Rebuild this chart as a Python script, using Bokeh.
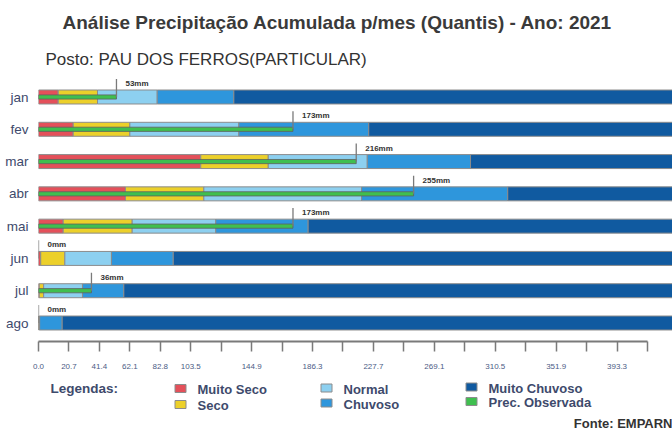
from bokeh.plotting import figure
from bokeh.layouts import column
from bokeh.models import Range1d, FixedTicker
from bokeh.core.properties import value
from bokeh.embed import file_html
from bokeh.resources import INLINE

# ---------------- data ----------------
meses = ["jan", "fev", "mar", "abr", "mai", "jun", "jul", "ago"]
lim_muito_seco = [13.4, 23.6, 110.3, 59.1, 16.8, 1.5, 0.5, 0.2]
lim_seco = [40.1, 62.1, 156.2, 112.4, 63.7, 17.9, 3.5, 0.4]
lim_normal = [80.7, 136.2, 223.5, 219.6, 120.5, 49.6, 29.9, 0.8]
lim_chuvoso = [132.8, 224.5, 293.7, 319.0, 183.3, 91.6, 58.0, 16.1]
prec_observada = [53, 173, 216, 255, 173, 0, 36, 0]

tick_values = [0.0, 20.7, 41.4, 62.1, 82.8, 103.5, 124.2, 144.9, 165.6, 186.3, 207.0,
               227.7, 248.4, 269.1, 289.8, 310.5, 331.2, 351.9, 372.6, 393.3, 414.0]
tick_labels = ["0.0", "20.7", "41.4", "62.1", "82.8", "103.5", "", "144.9", "", "186.3", "",
               "227.7", "", "269.1", "", "310.5", "", "351.9", "", "393.3", ""]

legend_labels = ["Muito Seco", "Seco", "Normal", "Chuvoso", "Muito Chuvoso", "Prec. Observada"]

titulo = "Análise Precipitação Acumulada p/mes (Quantis) - Ano: 2021"
subtitulo = "Posto: PAU DOS FERROS(PARTICULAR)"
fonte = "Fonte: EMPARN"

# ---------------- style ----------------
FONT = value("Liberation Sans")
C_MS = "#e4505a"
C_SECO = "#ecd02a"
C_NORMAL = "#8dd0f0"
C_CHUV = "#2e96dc"
C_MCHUV = "#105aa0"
C_OBS = "#3fbf4f"
legend_colors = [C_MS, C_SECO, C_NORMAL, C_CHUV, C_MCHUV, C_OBS]
EDGE = "#8c8c8c"
TXT = "#3e4a6c"

W = 672
n = len(meses)
ys = [n - 1 - i for i in range(n)]
LEFT = 38
X_END = (W - LEFT) / 1.471

# ---------------- header ----------------
H1 = 70
h = figure(width=W, height=H1, x_range=Range1d(0, W), y_range=Range1d(H1, 0),
           x_axis_type=None, y_axis_type=None, output_backend="svg",
           toolbar_location=None, min_border=0, frame_align=False)
h.outline_line_color = None
h.text(x=[62], y=[22], text=[titulo], text_font=FONT, text_font_style="bold",
       text_font_size="19px", text_color="#3a3a3a", text_baseline="middle")
h.text(x=[45], y=[59], text=[subtitulo], text_font=FONT,
       text_font_size="17px", text_color="#333333", text_baseline="middle")

# ---------------- main chart ----------------
H2 = 310
p = figure(width=W, height=H2, x_range=Range1d(0, X_END),
           y_range=Range1d(-0.573, n - 1 + 0.635),
           output_backend="svg", toolbar_location=None, frame_align=False,
           min_border_left=LEFT, min_border_right=0, min_border_top=6, min_border_bottom=39)
p.outline_line_color = None
p.xgrid.visible = False
p.ygrid.visible = False

BH = 0.433
zeros = [0] * n
mch_end = [X_END + 20] * n
segments = [
    (zeros, lim_muito_seco, C_MS),
    (lim_muito_seco, lim_seco, C_SECO),
    (lim_seco, lim_normal, C_NORMAL),
    (lim_normal, lim_chuvoso, C_CHUV),
    (lim_chuvoso, mch_end, C_MCHUV),
]
for left, right, col in segments:
    p.hbar(y=ys, left=left, right=right, height=BH, fill_color=col,
           line_color=EDGE, line_width=1)

obs_y = [y for y, v in zip(ys, prec_observada) if v > 0]
obs_v = [v for v in prec_observada if v > 0]
p.hbar(y=obs_y, left=[0] * len(obs_v), right=obs_v, height=0.13, fill_color=C_OBS,
       line_color="#5f5f5f", line_width=0.8)

p.segment(x0=prec_observada, y0=ys, x1=prec_observada, y1=[y + 0.56 for y in ys],
          line_color="#7a7a7a", line_width=1.3)
p.text(x=prec_observada, y=[y + 0.42 for y in ys],
       text=[f"{v}mm" for v in prec_observada], x_offset=9,
       text_font=FONT, text_font_style="bold", text_font_size="8px",
       text_color="#333333", text_baseline="middle")

# y axis
p.yaxis.ticker = FixedTicker(ticks=ys)
p.yaxis.major_label_overrides = {y: m for y, m in zip(ys, meses)}
p.yaxis.axis_line_color = None
p.yaxis.major_tick_line_color = None
p.yaxis.minor_tick_line_color = None
p.yaxis.major_label_text_font = "Liberation Sans"
p.yaxis.major_label_text_font_size = "13.5px"
p.yaxis.major_label_text_color = TXT
p.yaxis.major_label_standoff = 4

# x axis
p.xaxis.ticker = FixedTicker(ticks=tick_values, minor_ticks=[])
p.xaxis.bounds = (0, 414)
p.xaxis.major_label_overrides = {v: l for v, l in zip(tick_values, tick_labels)}
p.xaxis.axis_line_color = "#7a7a7a"
p.xaxis.axis_line_width = 2
p.xaxis.major_tick_line_color = "#7a7a7a"
p.xaxis.major_tick_line_width = 1.5
p.xaxis.major_tick_out = 10
p.xaxis.major_tick_in = 0
p.xaxis.major_label_standoff = 12
p.xaxis.major_label_text_font = "Liberation Sans"
p.xaxis.major_label_text_font_size = "8px"
p.xaxis.major_label_text_color = "#4b5b85"

# ---------------- legend ----------------
H3 = 50
lg = figure(width=W, height=H3, x_range=Range1d(0, W), y_range=Range1d(H3, 0),
            x_axis_type=None, y_axis_type=None, output_backend="svg",
            toolbar_location=None, min_border=0, frame_align=False)
lg.outline_line_color = None
lg.text(x=[50], y=[8], text=["Legendas:"], text_font=FONT, text_font_style="bold",
        text_font_size="13.5px", text_color=TXT, text_baseline="middle")

col_x = [180, 326, 471]
row_y = [[8, 24], [7.5, 22.5], [6.5, 21]]
sx, sy, tx, ty = [], [], [], []
for i, lab in enumerate(legend_labels):
    c, r = divmod(i, 2)
    sx.append(col_x[c])
    sy.append(row_y[c][r])
    tx.append(col_x[c] + 17)
    ty.append(row_y[c][r] + 1)
lg.rect(x=sx, y=sy, width=11, height=8, fill_color=legend_colors,
        line_color="#8c8c8c", line_width=1)
lg.text(x=tx, y=ty, text=legend_labels, text_font=FONT, text_font_style="bold",
        text_font_size="13px", text_color=TXT, text_baseline="middle")
lg.text(x=[W], y=[43], text=[fonte], text_font=FONT, text_font_style="bold",
        text_font_size="13px", text_color="#333333", text_baseline="middle",
        text_align="right")

layout = column(h, p, lg, spacing=0)
open("out.html", "w").write(file_html(layout, INLINE))
